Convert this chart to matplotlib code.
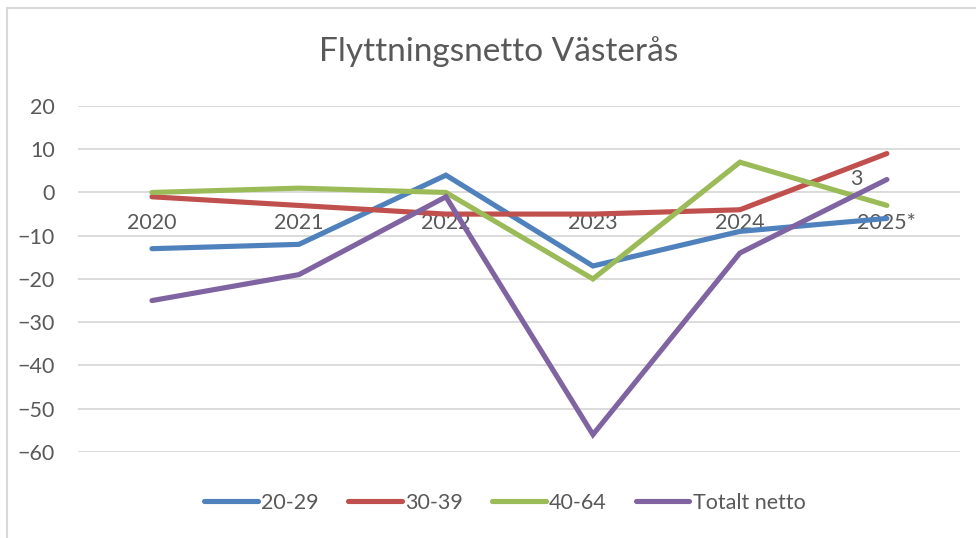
import matplotlib
matplotlib.use("Agg")
import matplotlib.pyplot as plt
from matplotlib.lines import Line2D

# data
years = ['2020', '2021', '2022', '2023', '2024', '2025*']
age_20_29 = [-13, -12, 4, -17, -9, -6]
age_30_39 = [-1, -3, -5, -5, -4, 9]
age_40_64 = [0, 1, 0, -20, 7, -3]
total_net = [-25, -19, -1, -56, -14, 3]

series = [
    ('20-29', age_20_29, '#4F81BD'),
    ('30-39', age_30_39, '#C0504D'),
    ('40-64', age_40_64, '#9BBB59'),
    ('Totalt netto', total_net, '#8064A2'),
]

grey = '#595959'
fs = 15.5
plt.rcParams['font.family'] = ['Lato', 'DejaVu Sans']

fig = plt.figure(figsize=(9.76, 5.38), dpi=100)
ax = fig.add_axes([0.0804, 0.160, 0.9036, 0.643])

x = range(len(years))
for name, vals, col in series:
    ax.plot(x, vals, color=col, lw=3.7, solid_capstyle='round',
            solid_joinstyle='miter', label=name, zorder=3)

# data label on last total point
ax.annotate(str(total_net[-1]), (x[-1], total_net[-1]), xytext=(-22, 0),
            textcoords='offset points', ha='center', va='center',
            fontsize=fs, color=grey, zorder=4)

ax.set_xlim(-0.5, len(years) - 0.5)
ax.set_ylim(-60, 20)
ax.set_yticks(range(-60, 21, 10))
ax.grid(axis='y', color='#D9D9D9', lw=1.3, zorder=0)
ax.set_axisbelow(True)

for s in ['top', 'right', 'left']:
    ax.spines[s].set_visible(False)
ax.spines['bottom'].set_position(('data', 0))
ax.spines['bottom'].set_visible(False)

ax.set_xticks(list(x))
ax.set_xticklabels(years)
ax.tick_params(axis='x', length=0, pad=15, labelsize=fs, labelcolor=grey)
ax.tick_params(axis='y', length=0, pad=17, labelsize=fs, labelcolor=grey)

fig.suptitle('Flyttningsnetto Västerås', x=0.511, y=0.905, fontsize=24,
             color=grey, va='center')

fig.legend(loc='center left', bbox_to_anchor=(204 / 976, 1 - 503 / 538), ncol=4,
           frameon=False, fontsize=15.5, labelcolor=grey, handlelength=2.5,
           handletextpad=0.15, columnspacing=1.35, borderpad=0, borderaxespad=0)

# outer chart border (top and left edges visible)
fig.add_artist(Line2D([6.5 / 976, 1], [1 - 7.5 / 538] * 2, color='#D9D9D9', lw=1.5))
fig.add_artist(Line2D([6.5 / 976] * 2, [0, 1 - 7.5 / 538], color='#D9D9D9', lw=1.5))

fig.savefig('out.png', dpi=100, facecolor='white')
